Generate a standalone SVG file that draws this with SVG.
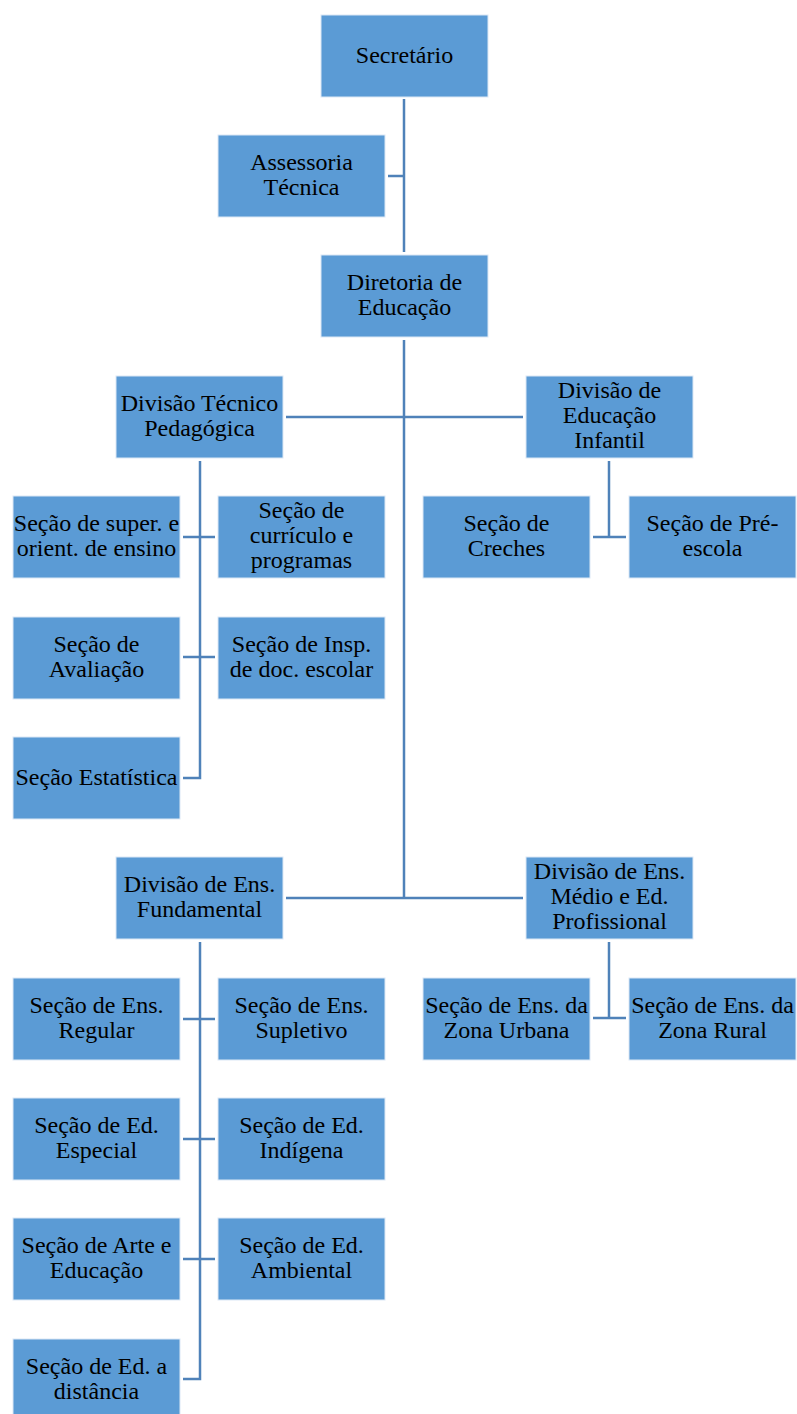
<svg xmlns="http://www.w3.org/2000/svg" width="797" height="1414" viewBox="0 0 797 1414">
<style>
.box{fill:#5B9BD5;stroke:#DCE8F5;stroke-width:1}
.t{font-family:"Liberation Serif","Times New Roman",serif;font-size:24px;fill:#000;text-anchor:middle}
.c{stroke:#4F82B9;stroke-width:2.5;fill:none}
</style>
<rect width="797" height="1414" fill="#fff"/>
<g id="connectors">
<path class="c" d="M404 99V252M388 176H404"/>
<path class="c" d="M404 340V898M286 417H523M286 898H523"/>
<path class="c" d="M200 461V778H183M183 537H215M183 657H215"/>
<path class="c" d="M609 461V537M593 537H626"/>
<path class="c" d="M200 942V1379H183M183 1019H215M183 1139H215M183 1259H215"/>
<path class="c" d="M609 942V1018M593 1018H626"/>
</g>
<g id="n1"><rect class="box" x="321" y="15" width="167" height="82"/><text class="t" x="404.5" y="63">Secretário</text></g>
<g id="n2"><rect class="box" x="218" y="135" width="167" height="82"/><text class="t" x="301.5" y="170">Assessoria</text><text class="t" x="301.5" y="195">Técnica</text></g>
<g id="n3"><rect class="box" x="321" y="255" width="167" height="82"/><text class="t" x="404.5" y="290">Diretoria de</text><text class="t" x="404.5" y="315">Educação</text></g>
<g id="n4"><rect class="box" x="116" y="376" width="167" height="82"/><text class="t" x="199.5" y="411">Divisão Técnico</text><text class="t" x="199.5" y="436">Pedagógica</text></g>
<g id="n5"><rect class="box" x="526" y="376" width="167" height="82"/><text class="t" x="609.5" y="398">Divisão de</text><text class="t" x="609.5" y="423">Educação</text><text class="t" x="609.5" y="448">Infantil</text></g>
<g id="n6"><rect class="box" x="13" y="496" width="167" height="82"/><text class="t" x="96.5" y="531">Seção de super. e</text><text class="t" x="96.5" y="556">orient. de ensino</text></g>
<g id="n7"><rect class="box" x="218" y="496" width="167" height="82"/><text class="t" x="301.5" y="518">Seção de</text><text class="t" x="301.5" y="543">currículo e</text><text class="t" x="301.5" y="568">programas</text></g>
<g id="n8"><rect class="box" x="13" y="617" width="167" height="82"/><text class="t" x="96.5" y="652">Seção de</text><text class="t" x="96.5" y="677">Avaliação</text></g>
<g id="n9"><rect class="box" x="218" y="617" width="167" height="82"/><text class="t" x="301.5" y="652">Seção de Insp.</text><text class="t" x="301.5" y="677">de doc. escolar</text></g>
<g id="n10"><rect class="box" x="13" y="737" width="167" height="82"/><text class="t" x="96.5" y="785">Seção Estatística</text></g>
<g id="n11"><rect class="box" x="423" y="496" width="167" height="82"/><text class="t" x="506.5" y="531">Seção de</text><text class="t" x="506.5" y="556">Creches</text></g>
<g id="n12"><rect class="box" x="629" y="496" width="167" height="82"/><text class="t" x="712.5" y="531">Seção de Pré-</text><text class="t" x="712.5" y="556">escola</text></g>
<g id="n13"><rect class="box" x="116" y="857" width="167" height="82"/><text class="t" x="199.5" y="892">Divisão de Ens.</text><text class="t" x="199.5" y="917">Fundamental</text></g>
<g id="n14"><rect class="box" x="526" y="857" width="167" height="82"/><text class="t" x="609.5" y="879">Divisão de Ens.</text><text class="t" x="609.5" y="904">Médio e Ed.</text><text class="t" x="609.5" y="929">Profissional</text></g>
<g id="n15"><rect class="box" x="13" y="978" width="167" height="82"/><text class="t" x="96.5" y="1013">Seção de Ens.</text><text class="t" x="96.5" y="1038">Regular</text></g>
<g id="n16"><rect class="box" x="218" y="978" width="167" height="82"/><text class="t" x="301.5" y="1013">Seção de Ens.</text><text class="t" x="301.5" y="1038">Supletivo</text></g>
<g id="n17"><rect class="box" x="13" y="1098" width="167" height="82"/><text class="t" x="96.5" y="1133">Seção de Ed.</text><text class="t" x="96.5" y="1158">Especial</text></g>
<g id="n18"><rect class="box" x="218" y="1098" width="167" height="82"/><text class="t" x="301.5" y="1133">Seção de Ed.</text><text class="t" x="301.5" y="1158">Indígena</text></g>
<g id="n19"><rect class="box" x="13" y="1218" width="167" height="82"/><text class="t" x="96.5" y="1253">Seção de Arte e</text><text class="t" x="96.5" y="1278">Educação</text></g>
<g id="n20"><rect class="box" x="218" y="1218" width="167" height="82"/><text class="t" x="301.5" y="1253">Seção de Ed.</text><text class="t" x="301.5" y="1278">Ambiental</text></g>
<g id="n21"><rect class="box" x="13" y="1339" width="167" height="82"/><text class="t" x="96.5" y="1374">Seção de Ed. a</text><text class="t" x="96.5" y="1399">distância</text></g>
<g id="n22"><rect class="box" x="423" y="978" width="167" height="82"/><text class="t" x="506.5" y="1013">Seção de Ens. da</text><text class="t" x="506.5" y="1038">Zona Urbana</text></g>
<g id="n23"><rect class="box" x="629" y="978" width="167" height="82"/><text class="t" x="712.5" y="1013">Seção de Ens. da</text><text class="t" x="712.5" y="1038">Zona Rural</text></g>
</svg>
